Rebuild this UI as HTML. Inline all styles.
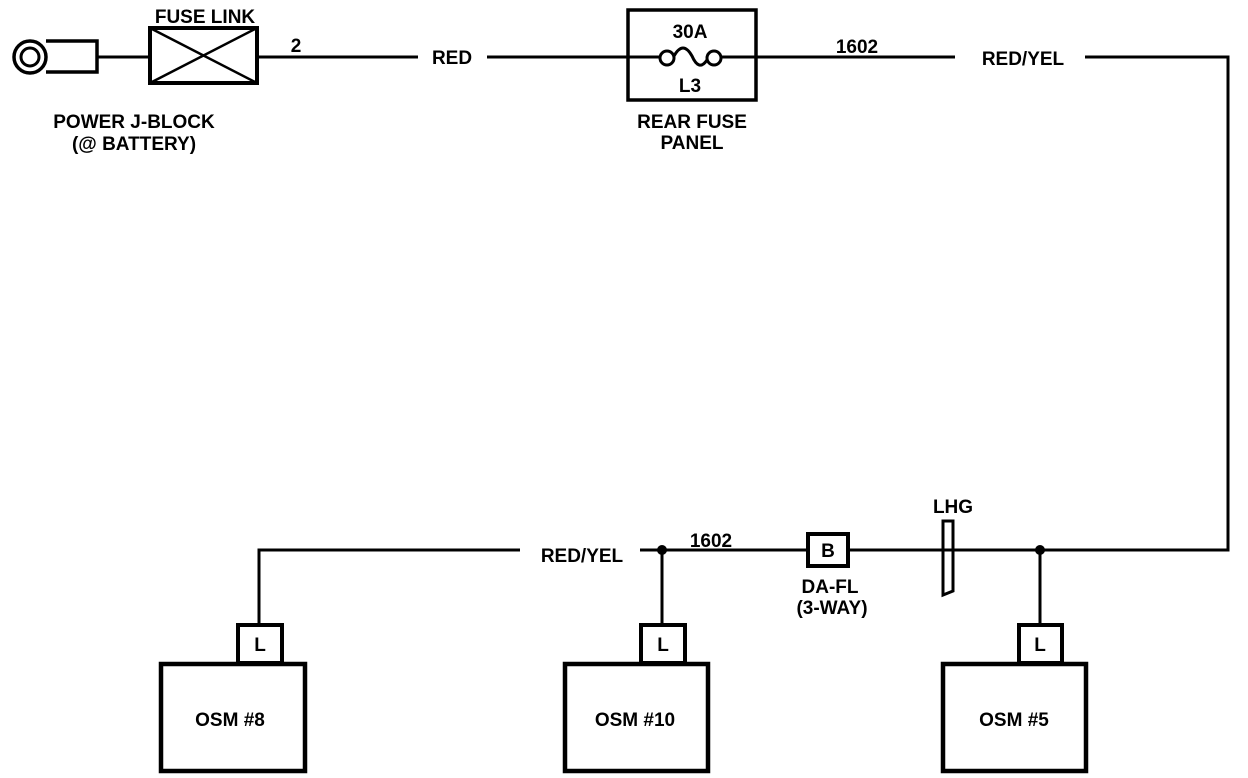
<!DOCTYPE html>
<html><head><meta charset="utf-8"><style>
html,body{margin:0;padding:0;background:#fff;}
svg{display:block;}
text{font-family:"Liberation Sans",Arial,sans-serif;font-weight:bold;fill:#000;}
</style></head><body>
<svg width="1248" height="778" viewBox="0 0 1248 778" xmlns="http://www.w3.org/2000/svg">
<g fill="none" stroke="#000">
<circle cx="30" cy="57" r="16" stroke-width="3.5"/>
<circle cx="30" cy="57" r="9" stroke-width="3"/>
<path d="M46,41 H97 V72 H46" stroke-width="3.5"/>
<line x1="97" y1="57" x2="150" y2="57" stroke-width="3"/>
<rect x="150" y="28" width="107" height="55" stroke-width="4"/>
<line x1="150" y1="28" x2="257" y2="83" stroke-width="2.5"/>
<line x1="150" y1="83" x2="257" y2="28" stroke-width="2.5"/>
<line x1="257" y1="57" x2="418" y2="57" stroke-width="3"/>
<line x1="487" y1="57" x2="628" y2="57" stroke-width="3"/>
<rect x="628" y="10" width="128" height="90" stroke-width="3.5"/>
<line x1="620" y1="57" x2="660" y2="57" stroke-width="3"/>
<circle cx="667" cy="58" r="7" stroke-width="3"/>
<circle cx="714" cy="58" r="7" stroke-width="3"/>
<path d="M674,56 Q683,40 692,56 Q699,72 707,60" stroke-width="3"/>
<line x1="721" y1="57" x2="955" y2="57" stroke-width="3"/>
<path d="M1085,57 H1228 V550 H640" stroke-width="3"/>
<path d="M943,521 H953 V591 L943,595 Z" stroke-width="3" fill="#fff"/>
<line x1="943" y1="550" x2="953" y2="550" stroke-width="3"/>
<rect x="808" y="534" width="40" height="32" stroke-width="4" fill="#fff"/>
<path d="M520,550 H259 V625" stroke-width="3"/>
<line x1="662" y1="550" x2="662" y2="625" stroke-width="3"/>
<line x1="1040" y1="550" x2="1040" y2="625" stroke-width="3"/>
<rect x="238" y="625" width="44" height="38" stroke-width="4"/>
<rect x="641" y="625" width="44" height="38" stroke-width="4"/>
<rect x="1019" y="625" width="43" height="38" stroke-width="4"/>
<rect x="161" y="664" width="144" height="107" stroke-width="4.5"/>
<rect x="565" y="664" width="143" height="107" stroke-width="4.5"/>
<rect x="943" y="664" width="143" height="107" stroke-width="4.5"/>
</g>
<circle cx="662" cy="550" r="5" fill="#000"/>
<circle cx="1040" cy="550" r="5" fill="#000"/>
<g font-size="19">
<text x="205" y="23" text-anchor="middle">FUSE LINK</text>
<text x="296" y="52" text-anchor="middle">2</text>
<text x="452" y="64" text-anchor="middle">RED</text>
<text x="134" y="128" text-anchor="middle">POWER J-BLOCK</text>
<text x="134" y="150" text-anchor="middle">(@ BATTERY)</text>
<text x="690" y="38" text-anchor="middle">30A</text>
<text x="690" y="92" text-anchor="middle">L3</text>
<text x="692" y="128" text-anchor="middle">REAR FUSE</text>
<text x="692" y="149" text-anchor="middle">PANEL</text>
<text x="857" y="53" text-anchor="middle">1602</text>
<text x="1023" y="65" text-anchor="middle">RED/YEL</text>
<text x="953" y="513" text-anchor="middle">LHG</text>
<text x="582" y="562" text-anchor="middle">RED/YEL</text>
<text x="711" y="547" text-anchor="middle">1602</text>
<text x="828" y="557" text-anchor="middle">B</text>
<text x="830" y="593" text-anchor="middle">DA-FL</text>
<text x="832" y="614" text-anchor="middle">(3-WAY)</text>
<text x="260" y="651" text-anchor="middle">L</text>
<text x="663" y="651" text-anchor="middle">L</text>
<text x="1040" y="651" text-anchor="middle">L</text>
<text x="230" y="726" text-anchor="middle">OSM #8</text>
<text x="635" y="726" text-anchor="middle">OSM #10</text>
<text x="1014" y="726" text-anchor="middle">OSM #5</text>
</g>
</svg>
</body></html>
